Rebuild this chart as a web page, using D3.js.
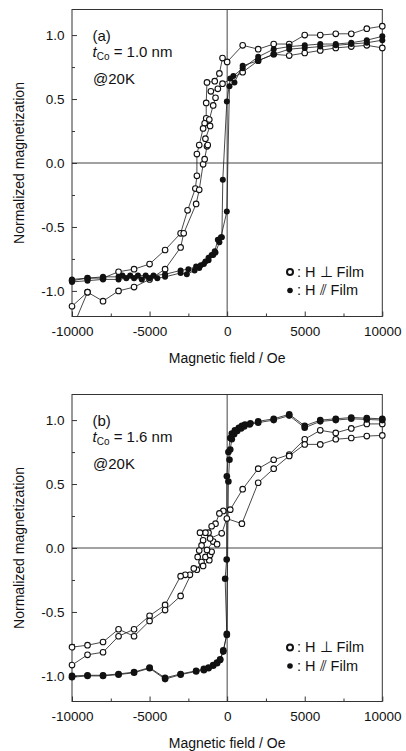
<!DOCTYPE html>
<html>
<head>
<meta charset="utf-8">
<script src="https://cdn.jsdelivr.net/npm/d3@7"></script>
<style>
  body { margin: 0; background: #fff; }
  text { font-family: "Liberation Sans", Arial, sans-serif; fill: #111; }
</style>
</head>
<body>
<svg id="chart" width="406" height="751"></svg>
<script>

var fieldTicks = [-10000, -5000, 0, 5000, 10000];
var fieldMinorTicks = [-7500, -2500, 2500, 7500];
var magTicks = [-1.0, -0.5, 0.0, 0.5, 1.0];
var magMinorTicks = [-0.75, -0.25, 0.25, 0.75];

// (a) tCo = 1.0 nm, H perpendicular (open)
var aPerpDownH = [10000, 9000, 8000, 7000, 6000, 5000, 4000, 3000, 2000, 1000, 0, -300, -500, -800, -1300, -1350, -1350, -1450, -1550, -1800, -1950, -1950, -2050, -2550, -3000, -4000, -5000, -6000, -7000, -8000, -9000, -10000];
var aPerpDownM = [1.07, 1.05, 1.01, 1.01, 1.0, 1.0, 0.93, 0.93, 0.89, 0.92, 0.79, 0.82, 0.70, 0.64, 0.63, 0.47, 0.35, 0.31, 0.27, 0.14, 0.07, -0.10, -0.20, -0.37, -0.55, -0.68, -0.79, -0.83, -0.85, -0.90, -0.90, -0.92];
var aPerpUpH = [-10000, -9000, -8000, -7000, -6000, -5000, -4000, -3000, -2800, -2000, -1800, -1550, -1450, -1300, -1250, -1400, -1100, -1150, -900, -750, -1050, -600, -300, 1000, 2000, 3000, 4000, 5000, 6000, 7000, 8000, 9000, 10000];
var aPerpUpM = [-1.12, -1.01, -1.08, -1.00, -0.97, -0.91, -0.83, -0.66, -0.55, -0.32, -0.21, -0.01, 0.03, 0.13, 0.14, 0.19, 0.29, 0.34, 0.45, 0.51, 0.56, 0.58, 0.62, 0.71, 0.80, 0.85, 0.84, 0.86, 0.88, 0.90, 0.91, 0.92, 0.90];
var aPerpTailH = [-10000, -9000];
var aPerpTailM = [-1.30, -1.01];

// (a) H parallel (filled)
var aParaDownH = [10000, 9000, 8000, 7000, 6000, 5000, 4000, 3000, 2000, 1000, 400, 200, -20, -280, -340, -500, -750, -900, -1200, -1500, -1800, -2100, -2600, -3000, -4000, -4500, -5000, -5500, -6000, -6500, -7000, -8000, -9000, -10000];
var aParaDownM = [0.99, 0.96, 0.94, 0.93, 0.93, 0.92, 0.91, 0.89, 0.83, 0.74, 0.68, 0.66, 0.48, -0.13, -0.58, -0.62, -0.70, -0.72, -0.76, -0.79, -0.82, -0.84, -0.87, -0.86, -0.89, -0.90, -0.90, -0.91, -0.90, -0.90, -0.91, -0.91, -0.92, -0.93];
var aParaUpH = [-10000, -9000, -8000, -7000, -6750, -6250, -5750, -5250, -4750, -4000, -3000, -2500, -2000, -1700, -1400, -1200, -1000, -800, -600, -400, -20, 150, 470, 1000, 2000, 3000, 4000, 5000, 6000, 7000, 8000, 9000, 10000];
var aParaUpM = [-0.91, -0.90, -0.89, -0.89, -0.88, -0.88, -0.88, -0.88, -0.88, -0.87, -0.84, -0.83, -0.81, -0.80, -0.77, -0.74, -0.72, -0.69, -0.60, -0.58, -0.38, 0.60, 0.63, 0.76, 0.80, 0.85, 0.89, 0.90, 0.91, 0.92, 0.93, 0.94, 0.96];

// (b) tCo = 1.6 nm, H perpendicular (open)
var bPerpDownH = [10000, 9000, 8000, 7000, 6000, 5000, 4000, 3000, 2000, 1000, 200, -250, -500, -750, -1000, -1200, -1400, -1750, -1550, -1650, -1800, -1900, -1650, -1950, -2400, -2700, -3000, -4000, -5000, -6000, -7000, -8000, -9000, -10000];
var bPerpDownM = [0.97, 0.97, 0.935, 0.90, 0.92, 0.85, 0.73, 0.69, 0.62, 0.46, 0.30, 0.29, 0.27, 0.19, 0.17, 0.12, 0.12, 0.12, 0.06, 0.02, -0.02, -0.07, -0.11, -0.17, -0.21, -0.21, -0.22, -0.445, -0.53, -0.635, -0.69, -0.815, -0.835, -0.915];
var bPerpUpH = [-10000, -9000, -8000, -7000, -6000, -5000, -4000, -3000, -2150, -1550, -1150, -1400, -1100, -1000, -1300, -900, -650, -1100, -350, -20, 950, 2000, 3000, 4000, 5000, 6000, 7000, 8000, 9000, 10000];
var bPerpUpM = [-0.775, -0.76, -0.735, -0.635, -0.69, -0.57, -0.485, -0.375, -0.16, -0.14, -0.095, -0.07, -0.055, -0.03, -0.015, 0.05, 0.03, 0.075, 0.115, 0.23, 0.19, 0.51, 0.62, 0.72, 0.81, 0.81, 0.85, 0.86, 0.875, 0.88];

// (b) H parallel (filled)
var bParaDownH = [10000, 9000, 8000, 7000, 6000, 5000, 4000, 3000, 2000, 1500, 1150, 950, 750, 500, 300, 200, 80, -20, -30, -130, -20, -250, -450, -650, -900, -1200, -1500, -2000, -3000, -4000, -5000, -6000, -7000, -8000, -9000, -10000];
var bParaDownM = [1.01, 1.015, 1.02, 1.01, 1.0, 0.955, 1.045, 1.01, 0.99, 0.975, 0.965, 0.955, 0.94, 0.92, 0.895, 0.86, 0.75, 0.56, -0.09, -0.24, -0.67, -0.81, -0.875, -0.90, -0.92, -0.94, -0.955, -0.965, -0.99, -1.025, -0.94, -0.975, -0.99, -1.0, -1.0, -1.01];
var bParaUpH = [-10000, -9000, -8000, -7000, -6000, -5000, -4000, -3000, -2000, -1500, -1200, -900, -650, -450, -250, -20, 80, 150, 200, 300, 450, 650, 900, 1100, 1450, 2000, 3000, 4000, 5000, 6000, 7000, 8000, 9000, 10000];
var bParaUpM = [-1.0, -0.995, -0.995, -0.985, -0.97, -0.935, -1.015, -0.985, -0.96, -0.945, -0.935, -0.915, -0.895, -0.87, -0.80, -0.68, 0.52, 0.69, 0.77, 0.85, 0.89, 0.915, 0.935, 0.95, 0.965, 0.98, 1.0, 1.035, 0.94, 0.99, 1.0, 1.01, 1.005, 1.0];

var svg = d3.select("#chart");

var panels = [
	{ id: "a", top: 9.5, label: "(a)", thick: "1.0", legendY: 272, paraR: 3,
	  perp: [[aPerpTailH, aPerpTailM], [aPerpDownH, aPerpDownM], [aPerpUpH, aPerpUpM]],
	  para: [[aParaDownH, aParaDownM], [aParaUpH, aParaUpM]] },
	{ id: "b", top: 394.5, label: "(b)", thick: "1.6", legendY: 647.5, paraR: 3.3,
	  perp: [[bPerpDownH, bPerpDownM], [bPerpUpH, bPerpUpM]],
	  para: [[bParaDownH, bParaDownM], [bParaUpH, bParaUpM]] }
];

var left = 72, width = 310.3, height = 307;

function drawPanel(p) {
	var g = svg.append("g").attr("transform", "translate(" + left + "," + p.top + ")");

	var x = d3.scaleLinear().domain([-10000, 10000]).range([0, width]);
	var y = d3.scaleLinear().domain([-1.2, 1.2]).range([height, 0]);

	g.append("clipPath").attr("id", "clip-" + p.id)
	  .append("rect").attr("x", -8).attr("y", 0).attr("width", width + 16).attr("height", height);

	// zero lines
	g.append("line").attr("x1", x(0)).attr("x2", x(0)).attr("y1", 0).attr("y2", height)
	  .attr("stroke", "#444").attr("stroke-width", 1);
	g.append("line").attr("x1", 0).attr("x2", width).attr("y1", y(0)).attr("y2", y(0))
	  .attr("stroke", "#444").attr("stroke-width", 1);

	var xAxis = g.append("g").attr("transform", "translate(0," + height + ")")
	  .call(d3.axisBottom(x).tickValues(fieldTicks).tickSizeInner(-5).tickSizeOuter(0).tickPadding(9.5)
	    .tickFormat(function(d) { return String(d); }));
	g.append("g").attr("transform", "translate(0," + height + ")")
	  .call(d3.axisBottom(x).tickValues(fieldMinorTicks).tickSizeInner(-3).tickSizeOuter(0).tickFormat(""));
	var yAxis = g.append("g")
	  .call(d3.axisLeft(y).tickValues(magTicks).tickSizeInner(-5).tickSizeOuter(0).tickPadding(7.5)
	    .tickFormat(function(d) { return d.toFixed(1); }));
	g.append("g")
	  .call(d3.axisLeft(y).tickValues(magMinorTicks).tickSizeInner(-3).tickSizeOuter(0).tickFormat(""));

	g.selectAll(".domain").remove();
	g.selectAll(".tick line").attr("stroke", "#333");
	g.selectAll(".tick text").attr("font-family", "Liberation Sans, Arial, sans-serif")
	  .attr("font-size", 13.5).attr("fill", "#111");

	g.append("rect").attr("width", width).attr("height", height)
	  .attr("fill", "none").attr("stroke", "#333").attr("stroke-width", 1);

	var line = d3.line()
	  .x(function(d) { return x(d[0]); })
	  .y(function(d) { return y(d[1]); });

	var plot = g.append("g").attr("clip-path", "url(#clip-" + p.id + ")");
	var all = p.perp.concat(p.para);
	all.forEach(function(s) {
		plot.append("path").datum(d3.zip(s[0], s[1]))
		  .attr("d", line).attr("fill", "none").attr("stroke", "#1a1a1a").attr("stroke-width", 0.8);
	});

	p.perp.forEach(function(s) {
		plot.selectAll(null).data(d3.zip(s[0], s[1])).enter().append("circle")
		  .attr("cx", function(d) { return x(d[0]); })
		  .attr("cy", function(d) { return y(d[1]); })
		  .attr("r", 2.8).attr("fill", "#fff").attr("stroke", "#111").attr("stroke-width", 1.1);
	});
	p.para.forEach(function(s) {
		plot.selectAll(null).data(d3.zip(s[0], s[1])).enter().append("circle")
		  .attr("cx", function(d) { return x(d[0]); })
		  .attr("cy", function(d) { return y(d[1]); })
		  .attr("r", p.paraR).attr("fill", "#111");
	});

	// annotations
	g.append("text").attr("x", 20.5).attr("y", 31).attr("font-size", 15).text(p.label);
	var t = g.append("text").attr("x", 20.5).attr("y", 47).attr("font-size", 15);
	t.append("tspan").attr("font-style", "italic").text("t");
	t.append("tspan").attr("font-size", 10).attr("dy", 3).text("Co");
	t.append("tspan").attr("dy", -3).text(" = " + p.thick + " nm");
	g.append("text").attr("x", 21).attr("y", 74.5).attr("font-size", 15).text("@20K");

	// legend
	var ly = p.legendY - p.top;
	g.append("circle").attr("cx", 218).attr("cy", ly).attr("r", 3)
	  .attr("fill", "#fff").attr("stroke", "#111").attr("stroke-width", 2);
	g.append("text").attr("x", 225).attr("y", ly + 4.5).attr("font-size", 14.5).text(": H \u22A5 Film");
	g.append("circle").attr("cx", 218).attr("cy", ly + 18.5).attr("r", 2.8).attr("fill", "#111");
	g.append("text").attr("x", 225).attr("y", ly + 23).attr("font-size", 14.5).text(": H \u2AFD Film");

	// axis titles
	g.append("text").attr("x", width / 2).attr("y", height + 46.5).attr("text-anchor", "middle")
	  .attr("font-size", 14).text("Magnetic field / Oe");
	g.append("text").attr("transform", "translate(" + (24 - left) + "," + (height / 2) + ") rotate(-90)")
	  .attr("text-anchor", "middle").attr("font-size", 14).text("Normalized magnetization");
}

panels.forEach(drawPanel);

</script>
</body>
</html>
